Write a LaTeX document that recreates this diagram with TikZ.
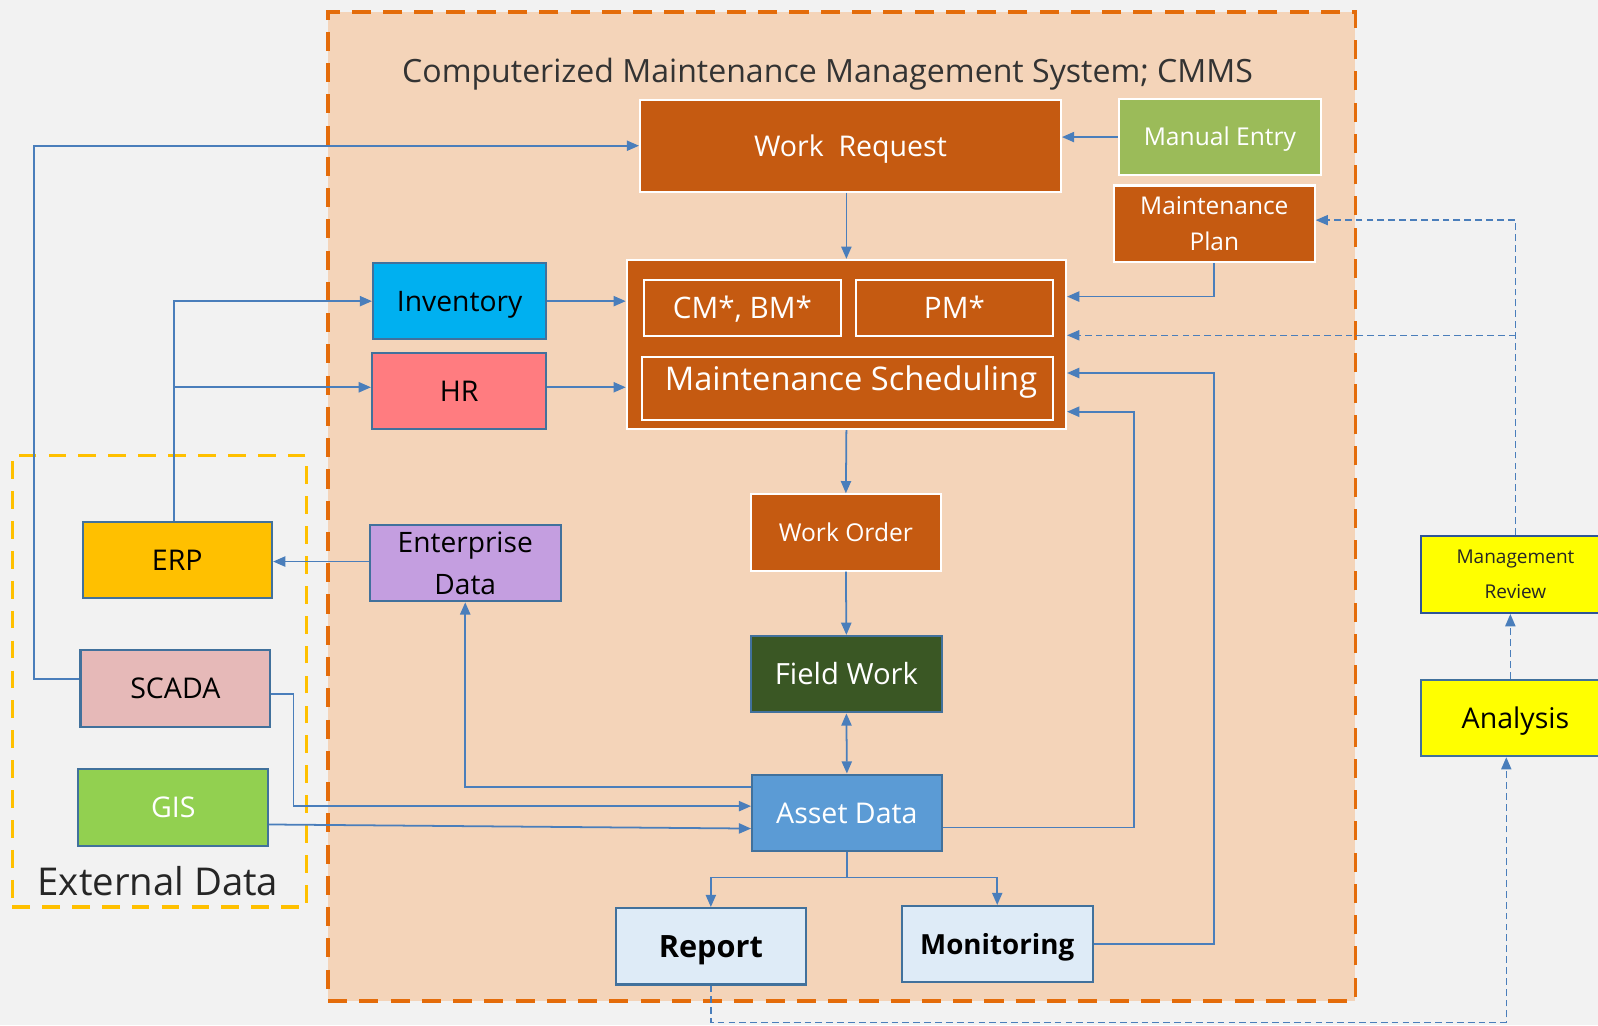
\documentclass[tikz,border=0pt]{standalone}
\usepackage{fontspec}
\setmainfont{Open Sans}
\usetikzlibrary{arrows.meta,calc}
\definecolor{bg}{HTML}{F2F2F2}
\definecolor{peach}{HTML}{F4D4B9}
\definecolor{orng}{HTML}{E46C0A}
\definecolor{rust}{HTML}{C55A11}
\definecolor{mgreen}{HTML}{9BBB59}
\definecolor{lblue}{HTML}{4A7EBB}
\definecolor{bordblue}{HTML}{41719C}
\definecolor{invc}{HTML}{00B0F0}
\definecolor{hrc}{HTML}{FF7C80}
\definecolor{erpc}{HTML}{FFC000}
\definecolor{scadac}{HTML}{E6B9B8}
\definecolor{gisc}{HTML}{92D050}
\definecolor{entc}{HTML}{C49EE0}
\definecolor{fwc}{HTML}{3A5724}
\definecolor{adc}{HTML}{5B9BD5}
\definecolor{repc}{HTML}{DEEBF7}
\definecolor{yel}{HTML}{FFFF00}
\definecolor{mrbd}{HTML}{2F5597}
\tikzset{
  sz/.style 2 args={minimum width=#1*0.75pt, minimum height=#2*0.75pt},
  box/.style={draw, line width=1.5pt, inner sep=0pt, align=center},
  one/.style 2 args={text height=#1, text depth=#2},
  rustbox/.style={box, fill=rust, draw=white, text=white},
  inbox/.style={box, draw=white, text=white},
  colbox/.style={box, draw=bordblue, fill=#1},
  ftitle/.style={font=\fontsize{23.6}{28}\selectfont},
  fbig/.style={font=\fontsize{21}{26}\selectfont},
  fmid/.style={font=\fontsize{18}{27}\selectfont},
  fent/.style={font=\fontsize{20.7}{30.75}\selectfont},
  fsmall/.style={font=\fontsize{18.1}{22}\selectfont},
  fmr/.style={font=\fontsize{14}{26}\selectfont},
  fext/.style={font=\fontsize{28.2}{32}\selectfont},
  tipA/.tip={Triangle[length=9pt,width=7.5pt]},
  arr/.style={draw=lblue, line width=1.3pt, -tipA},
  arrb/.style={draw=lblue, line width=1.3pt, tipA-tipA},
  darr/.style={arr, line width=1pt, dash pattern=on 5pt off 3pt},
}
\begin{document}
\begin{tikzpicture}[x=0.75pt,y=-0.75pt]
\useasboundingbox (0,0) rectangle (1568,1006);
\fill[bg] (0,0) rectangle (1568,1006);
\clip (0,0) rectangle (1568,1006);
% regions
\node[fill=peach, draw=orng, line width=2.6pt, dash pattern=on 14pt off 9pt, inner sep=0pt, sz={1008}{970}] (cmms) at (826,497) {};
\node[ftitle, text=black!80, one={21.7pt}{4.7pt}, inner sep=0pt] (title) at (812,70) {Computerized Maintenance Management System; CMMS};
\node[draw=erpc, line width=2.4pt, dash pattern=on 13pt off 9pt, inner sep=0pt, sz={289}{443}] (ext) at (156.5,668.5) {};
\node[fext, text=black!85, one={26pt}{5.6pt}, inner sep=0pt] (extl) at (155,865) {External Data};
% boxes
\node[rustbox, fbig, one={19.4pt}{4.2pt}, sz={413}{90}] (wr) at (834.5,143) {Work\ \ Request};
\node[box, draw=white, fill=mgreen, text=white, fsmall, one={16.7pt}{3.6pt}, sz={198}{75}] (me) at (1197,134.5) {Manual Entry};
\node[rustbox, fmid, sz={197}{75}] (mp) at (1191.5,219.5) {Maintenance\\Plan};
\node[rustbox, sz={431}{166}] (sched) at (830.5,338) {};
\node[inbox, font=\fontsize{21.8}{26}\selectfont, one={20pt}{4.4pt}, sz={193}{55}] (cm) at (728.5,302.5) {CM*, BM*};
\node[inbox, font=\fontsize{21.8}{26}\selectfont, one={20pt}{4.4pt}, sz={193}{55}] (pm) at (936.5,302.5) {PM*};
\node[inbox, sz={403}{62}] (ms) at (831.5,381) {};
\node[text=white, font=\fontsize{24}{28}\selectfont, inner sep=0pt, one={22pt}{4.8pt}] (mst) at (835,372) {Maintenance Scheduling};
\node[colbox=invc, font=\fontsize{20.8}{26}\selectfont, one={19.2pt}{4.2pt}, sz={170}{75}] (inv) at (451,295.5) {Inventory};
\node[colbox=hrc, fbig, one={19.4pt}{4.2pt}, sz={171}{75}] (hr) at (450.5,383.5) {HR};
\node[colbox=erpc, fbig, one={19.4pt}{4.2pt}, sz={186}{75}] (erp) at (174,549.5) {ERP};
\node[colbox=scadac, fbig, one={19.4pt}{4.2pt}, sz={186}{75}] (scada) at (172,675.5) {SCADA};
\node[colbox=gisc, fbig, text=white, one={19.4pt}{4.2pt}, sz={186}{75}] (gis) at (170,792.5) {GIS};
\node[colbox=entc, fent, sz={187}{75}] (ent) at (456.5,552.5) {Enterprise\\Data};
\node[rustbox, fsmall, one={16.7pt}{3.6pt}, sz={186}{75}] (wo) at (830,522.5) {Work Order};
\node[colbox=fwc, font=\fontsize{21.5}{26}\selectfont, text=white, one={19.8pt}{4.3pt}, sz={187}{75}] (fw) at (830.5,661.5) {Field Work};
\node[colbox=adc, fbig, text=white, one={19.4pt}{4.2pt}, sz={186}{75}] (ad) at (831,797.5) {Asset Data};
\node[colbox=repc, font=\bfseries\fontsize{22.6}{26}\selectfont, one={20.8pt}{4.5pt}, sz={187}{75}] (rep) at (697.5,928.5) {Report};
\node[colbox=repc, font=\bfseries\fontsize{20.4}{26}\selectfont, one={18.8pt}{4.1pt}, sz={187}{75}] (mon) at (978.5,926.5) {Monitoring};
\node[colbox=yel, draw=mrbd, fmr, text=black!85, sz={186}{76}] (mr) at (1487,563.5) {Management\\Review};
\node[colbox=yel, fbig, one={19.4pt}{4.2pt}, sz={186}{75}] (an) at (1487,704.5) {Analysis};
% connectors
\draw[arr] (scada.west |- 0,666) -- (33,666) |- (wr.west);
\draw[arr] ([xshift=-2.25pt]erp.north) |- (inv.west);
\draw[arr] ([xshift=-2.25pt]erp.north |- 0,380) -- (hr.west |- 0,380);
\draw[arr] (inv.east) -- (inv.east -| sched.west);
\draw[arr] (hr.east |- 0,380) -- (sched.west |- 0,380);
\draw[arr] (me.west) -- (me.west -| wr.east);
\draw[arr] (sched.north |- wr.south) -- (sched.north);
\draw[arr] (mp.south) |- (sched.east |- 0,291);
\draw[darr] (mr.north) |- (mp.east |- 0,216);
\draw[darr] (mr.north |- 0,329) -- (sched.east |- 0,329);
\draw[arr] (mon.east) -| (1191,366) -- (sched.east |- 0,366);
\draw[arr] (ad.east |- 0,812) -| (1113,404) -- (sched.east |- 0,404);
\draw[arr] (sched.south) -- (wo.north);
\draw[arr] (wo.south) -- (fw.north);
\draw[arrb] (fw.south) -- (ad.north);
\draw[arr] (ent.west |- 0,551) -- (erp.east |- 0,551);
\draw[arr] (ad.west |- 0,772) -| (ent.south);
\draw[arr] (scada.east |- 0,681) -- (288,681) |- (ad.west |- 0,791);
\draw[arr] (gis.east |- 0,809) -- (ad.west |- 0,813);
\draw[arr] (ad.south) -- ++(0,25) -| (rep.north);
\draw[arr] (ad.south) -- ++(0,25) -| (mon.north);
\draw[darr] (rep.south) |- (1478,1003) -- ($(an.south)+(-9,0)$);
\draw[darr] ($(an.north)+(-5,0)$) -- ($(mr.south)+(-5,0)$);
\end{tikzpicture}
\end{document}
